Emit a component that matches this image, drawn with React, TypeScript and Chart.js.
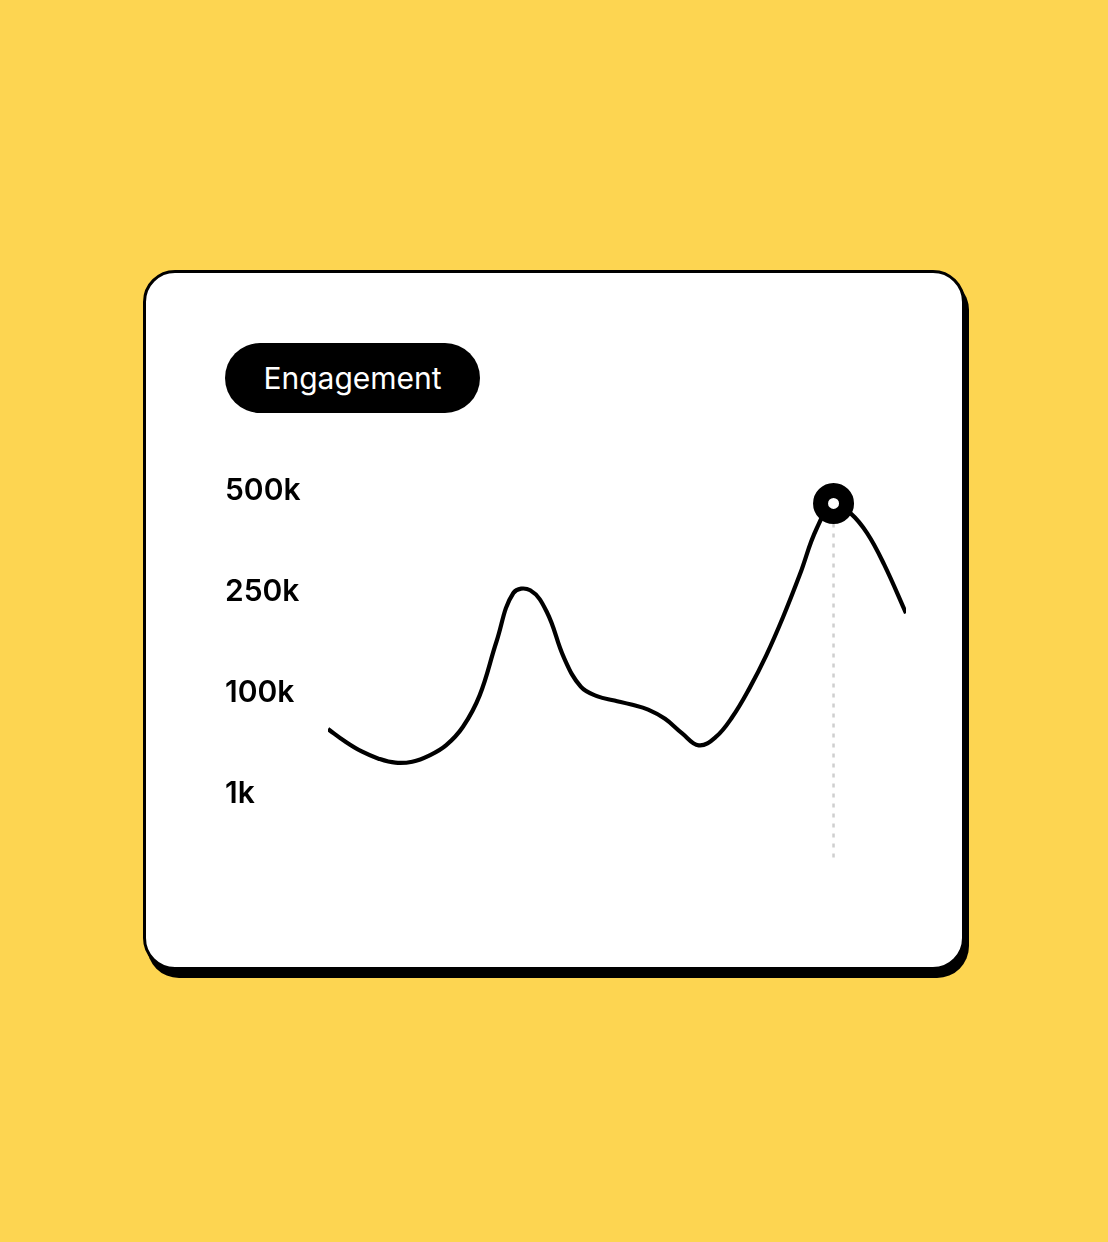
import React, { useEffect, useRef } from 'react';
import { Chart, registerables } from 'chart.js';

Chart.register(...registerables);

// engagement per day, in thousands
const days = [0, 1, 2, 3, 4, 5, 6, 7, 8, 9, 10, 11, 12, 13, 14, 15, 16, 17, 18, 19, 20, 21, 22, 23, 24, 25, 26, 27, 28, 29, 30, 31, 32, 33, 34.3];
const engagementK = [65, 53, 43, 36, 32, 33, 39, 49, 67, 98, 177, 249, 255, 220, 153, 110, 97, 93, 89, 84, 75, 61, 49, 57, 77, 107, 156, 213, 294, 408, 470, 446, 396, 319, 219];
const highlightIndex = 30;

// y axis is evenly spaced between these values
const tickValuesK = [1, 100, 250, 500];
const tickLabels = ['1k', '100k', '250k', '500k'];

const Y_MIN = -0.65;
const Y_MAX = 3.31;

// map a value in k onto the evenly spaced tick positions
const toAxis = (v: number) => {
    for (let i = 0; i < tickValuesK.length - 1; i++) {
        const a = tickValuesK[i];
        const b = tickValuesK[i + 1];
        if (v <= b || i === tickValuesK.length - 2) {
            return i + (v - a) / (b - a);
        }
    }
    return 0;
};

const EngagementChart: React.FC = () => {
    const chartRef = useRef<HTMLCanvasElement>(null);
    const chartInstanceRef = useRef<Chart | null>(null);

    useEffect(() => {
        if (!chartRef.current) return;
        if (chartInstanceRef.current) chartInstanceRef.current.destroy();
        const ctx = chartRef.current.getContext('2d');
        if (!ctx) return;

        Chart.defaults.font.family = 'Inter';
        const points = days.map((x, i) => ({ x, y: toAxis(engagementK[i]) }));
        const peak = points[highlightIndex];

        chartInstanceRef.current = new Chart(ctx, {
            type: 'line',
            data: {
                datasets: [
                    {
                        data: points,
                        borderColor: '#000',
                        borderWidth: 4.2,
                        pointRadius: 0,
                        tension: 0.4,
                        order: 1
                    },
                    {
                        data: [peak],
                        showLine: false,
                        pointRadius: 13,
                        pointBorderWidth: 15,
                        pointBackgroundColor: '#fff',
                        pointBorderColor: '#000',
                        order: 0
                    },
                    {
                        data: [peak, { x: peak.x, y: Y_MIN }],
                        borderColor: '#cfcfcf',
                        borderWidth: 2.5,
                        borderDash: [4, 6],
                        pointRadius: 0,
                        order: 2
                    }
                ]
            },
            options: {
                animation: false,
                responsive: true,
                maintainAspectRatio: false,
                events: [],
                layout: { padding: { top: 30, bottom: 30, left: 0, right: 40 } },
                plugins: {
                    legend: { display: false },
                    tooltip: { enabled: false }
                },
                scales: {
                    x: { type: 'linear', min: days[0], max: days[days.length - 1], display: false },
                    y: {
                        type: 'linear',
                        min: Y_MIN,
                        max: Y_MAX,
                        grid: { display: false, drawTicks: false },
                        border: { display: false },
                        afterBuildTicks: (scale: any) => {
                            scale.ticks = tickLabels.map((_, i) => ({ value: i }));
                        },
                        afterFit: (scale: any) => {
                            scale.width = 103;
                        },
                        ticks: {
                            crossAlign: 'far',
                            padding: 0,
                            color: '#000',
                            font: { size: 30, weight: 600 },
                            callback: (v: any) => tickLabels[Math.round(Number(v))] ?? ''
                        }
                    }
                }
            }
        });

        return () => {
            if (chartInstanceRef.current) {
                chartInstanceRef.current.destroy();
                chartInstanceRef.current = null;
            }
        };
    }, []);

    return (
        <div style={{ position: 'absolute', left: 225, top: 430, width: 721, height: 460 }}>
            <canvas ref={chartRef}></canvas>
        </div>
    );
};

export default function App() {
    return (
        <div style={{ position: 'absolute', left: 0, top: 0, width: 1108, height: 1242, background: '#fdd551', fontFamily: 'Inter, sans-serif' }}>
            <div
                style={{
                    position: 'absolute',
                    left: 143,
                    top: 270,
                    width: 822,
                    height: 700,
                    boxSizing: 'border-box',
                    border: '3px solid #000',
                    borderRadius: 32,
                    background: '#fff',
                    boxShadow: '4px 8px 0 #000'
                }}
            />
            <div
                style={{
                    position: 'absolute',
                    left: 225,
                    top: 343,
                    width: 255,
                    height: 70,
                    borderRadius: 35,
                    background: '#000',
                    color: '#fff',
                    fontSize: 30,
                    display: 'flex',
                    alignItems: 'center',
                    justifyContent: 'center'
                }}
            >
                Engagement
            </div>
            <EngagementChart />
        </div>
    );
}
